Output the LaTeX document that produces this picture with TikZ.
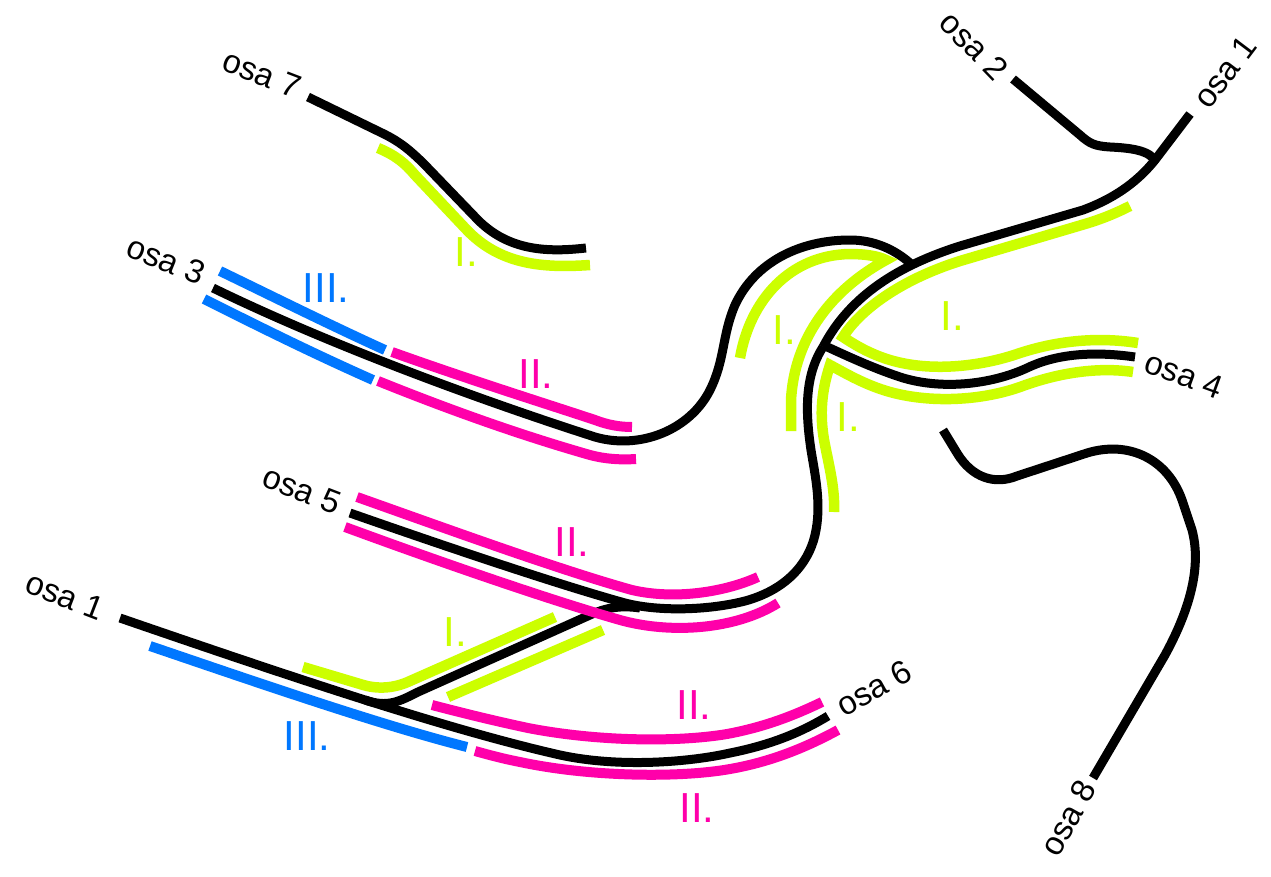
\documentclass[tikz,border=0pt]{standalone}
\usepackage{fontspec}
\setmainfont{Liberation Sans}
\definecolor{limeC}{RGB}{204,255,0}
\definecolor{magC}{RGB}{255,0,170}
\definecolor{blueC}{RGB}{0,119,255}
\begin{document}
\begin{tikzpicture}[x=1pt,y=-1pt,
  trk/.style={line width=9pt, black},
  lim/.style={line width=10.5pt, limeC, line join=miter, miter limit=20},
  mag/.style={line width=10pt, magC},
  blu/.style={line width=10pt, blueC},
  osa/.style={font=\fontsize{33}{33}\selectfont, inner sep=0pt},
  lab/.style={font=\fontsize{42}{42}\selectfont, inner sep=0pt}]
\useasboundingbox[fill=white] (0,0) rectangle (1271,876);

% ---- black tracks ----
% osa 7
\draw[trk] (308,97) -- (384,134) .. controls (400,142) and (410,150) .. (425,165) -- (478,220) .. controls (510,252) and (550,252) .. (586,248);
% osa 3 with loop
\draw[trk] (213,288) .. controls (330,345) and (480,400) .. (595,437) .. controls (640,450) and (690,430) .. (710,390) .. controls (725,360) and (722,335) .. (735,305) .. controls (755,262) and (800,240) .. (850,240) .. controls (875,240) and (895,250) .. (910,263);
% osa 1 (top) to junction
\draw[trk] (1190,114) -- (1155,160) .. controls (1135,185) and (1110,200) .. (1083,210) -- (960,246) .. controls (900,265) and (850,295) .. (823,347);
% osa 2
\draw[trk] (1013,79) -- (1080,135) .. controls (1090,144) and (1095,146) .. (1110,147) .. controls (1130,148) and (1150,150) .. (1156,162);
% osa 4
\draw[trk] (1135,357) .. controls (1100,352) and (1060,352) .. (1027,368) .. controls (990,385) and (940,390) .. (900,377) .. controls (870,367) and (845,355) .. (823,345);
% osa 5 to junction
\draw[trk] (350,513) .. controls (450,548) and (560,585) .. (625,603) .. controls (660,612) and (710,610) .. (745,601) .. controls (785,590) and (808,565) .. (815,535) .. controls (822,505) and (815,475) .. (811,450) .. controls (805,410) and (805,375) .. (823,347);
% osa 1 (bottom) to osa 6
\draw[trk] (120,618) .. controls (300,680) and (450,730) .. (560,755) .. controls (620,768) and (690,762) .. (730,753) .. controls (770,745) and (800,733) .. (828,716);
% branch
\draw[trk] (365,700) .. controls (388,708) and (400,701) .. (418,692) -- (590,615) .. controls (605,608) and (620,605) .. (640,608);
% osa 8
\draw[trk] (943,430) -- (957,453) .. controls (972,478) and (995,485) .. (1017,476) -- (1087,453) .. controls (1130,440) and (1168,460) .. (1182,500) -- (1192,530) .. controls (1200,560) and (1195,600) .. (1165,655) -- (1093,778);

% ---- lime ----
\draw[lim] (378,148) .. controls (395,155) and (405,163) .. (415,175) -- (465,228) .. controls (500,266) and (545,268) .. (590,265);
\draw[lim] (1138,343) .. controls (1100,337) and (1060,340) .. (1020,353) .. controls (980,367) and (930,372) .. (890,360) .. controls (870,354) and (855,345) .. (843,337) .. controls (860,310) and (900,280) .. (960,261) -- (1085,224) .. controls (1105,218) and (1118,212) .. (1130,206);
\draw[lim] (1133,372) .. controls (1100,367) and (1060,372) .. (1020,387) .. controls (980,401) and (930,403) .. (890,392) .. controls (865,385) and (845,373) .. (830,365) .. controls (820,395) and (820,420) .. (825,445) .. controls (830,470) and (835,490) .. (834,512);
\draw[lim] (740,358) .. controls (750,300) and (790,255) .. (850,254) .. controls (865,254) and (878,256) .. (886,260) .. controls (840,285) and (795,330) .. (791,400) -- (791,431);
\draw[lim] (303,667) -- (360,684) .. controls (378,690) and (395,688) .. (410,681) -- (555,617);
\draw[lim] (448,697) -- (603,630);

% ---- magenta ----
\draw[mag] (392,352) .. controls (470,380) and (550,405) .. (595,420) .. controls (608,425) and (620,427) .. (632,427);
\draw[mag] (378,381) .. controls (450,410) and (520,435) .. (590,455) .. controls (605,459) and (620,460) .. (636,459);
\draw[mag] (357,497) .. controls (450,530) and (560,570) .. (632,590) .. controls (675,600) and (725,592) .. (758,577);
\draw[mag] (345,527) .. controls (440,562) and (550,600) .. (620,620) .. controls (670,634) and (735,630) .. (778,603);
\draw[mag] (432,705) .. controls (470,715) and (500,722) .. (528,728) .. controls (600,742) and (680,742) .. (727,734) .. controls (765,727) and (795,715) .. (822,702);
\draw[mag] (475,751) .. controls (500,758) and (510,760) .. (520,762) .. controls (590,777) and (680,778) .. (730,769) .. controls (770,762) and (805,748) .. (838,730);

% ---- blue ----
\draw[blu] (220,271) .. controls (280,300) and (330,325) .. (385,350);
\draw[blu] (204,299) .. controls (260,327) and (310,352) .. (373,380);
\draw[blu] (150,646) .. controls (250,680) and (380,725) .. (467,747);

% ---- route labels ----
\node[osa, rotate=-21] (t7) at (262,74) {osa 7};
\node[osa, rotate=-22] (t3) at (166,260) {osa 3};
\node[osa, rotate=-21] (t5) at (302,490) {osa 5};
\node[osa, rotate=-21] (t1a) at (65,596) {osa 1};
\node[osa, rotate=29] (t6) at (874,688) {osa 6};
\node[osa, rotate=-20] (t4) at (1184,375) {osa 4};
\node[osa, rotate=-46] (t2) at (974,46) {osa 2};
\node[osa, rotate=53] (t1b) at (1225,72) {osa 1};
\node[osa, rotate=61] (t8) at (1068,818) {osa 8};

% ---- section labels ----
\node[lab, limeC] (l1) at (466,252) {I.};
\node[lab, blueC] (l2) at (326,288) {III.};
\node[lab, magC] (l3) at (536,374) {II.};
\node[lab, limeC] (l4) at (784,330) {I.};
\node[lab, limeC] (l5) at (952,316) {I.};
\node[lab, limeC] (l6) at (848,417) {I.};
\node[lab, limeC] (l7) at (455,632) {I.};
\node[lab, blueC] (l8) at (307,736) {III.};
\node[lab, magC] (l9) at (572,542) {II.};
\node[lab, magC] (l10) at (694,705) {II.};
\node[lab, magC] (l11) at (697,808) {II.};
\end{tikzpicture}
\end{document}
